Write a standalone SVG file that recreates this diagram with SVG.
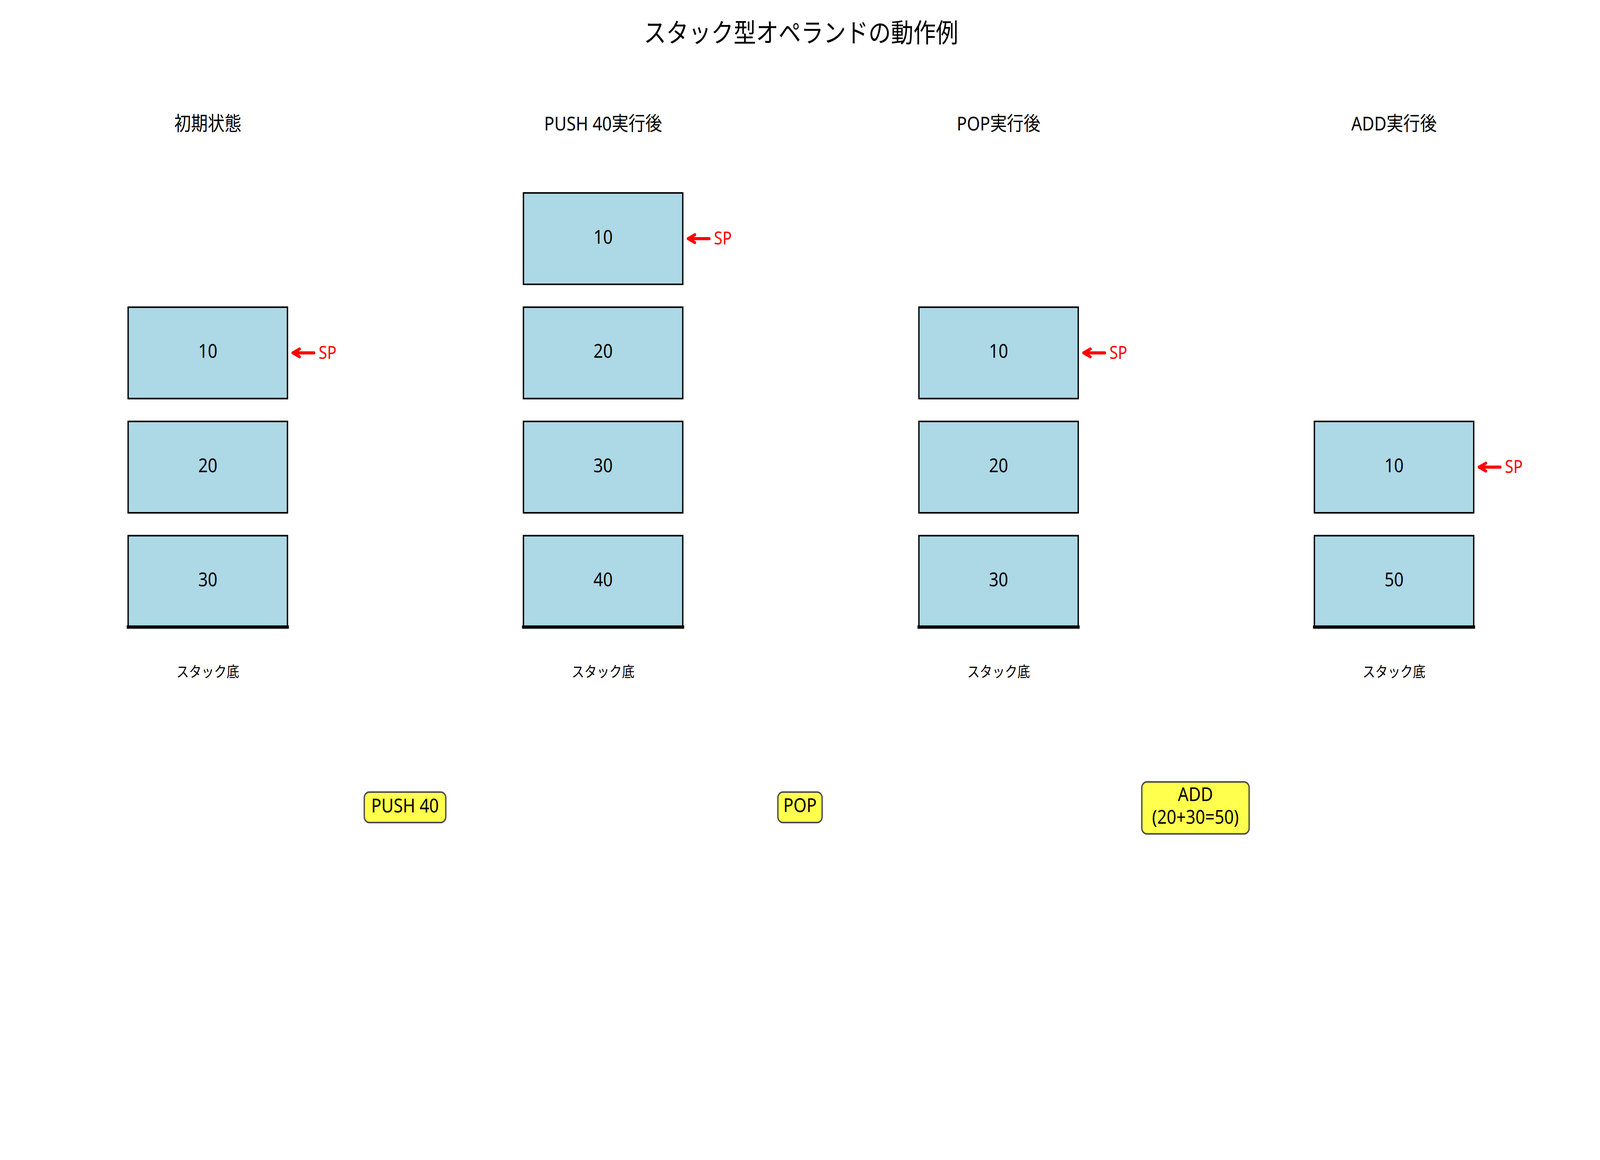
<svg xmlns="http://www.w3.org/2000/svg" width="4770" height="2970" viewBox="0 0 4770 2970" preserveAspectRatio="none" style="width:100vw;height:100vh">
<style>
text{font-family:"Noto Sans","Noto Sans CJK JP",sans-serif;fill:#000}
.title{font-size:67px;text-anchor:middle;dominant-baseline:central}
.head{font-size:50px;text-anchor:middle;dominant-baseline:central}
.cell rect{fill:#add8e6;stroke:#000;stroke-width:4}
.cell text{font-size:50px;text-anchor:middle}
.base{stroke:#000;stroke-width:8.3;stroke-linecap:square}
.btm{font-size:37.5px;text-anchor:middle;dominant-baseline:central}
.sp path{fill:none;stroke:#ff0000;stroke-width:8;stroke-linecap:round;stroke-linejoin:round}
.sp text{font-size:46px;fill:#ff0000}
.op rect{fill:#ffff4d;stroke:#4d4d4d;stroke-width:4}
.op text{font-size:50px;text-anchor:middle}
</style>
<rect width="4770" height="2970" fill="#fff"/>
<text class="title" x="2388" y="82">スタック型オペランドの動作例</text>

<g id="col1">
<text class="head" x="619.5" y="315">初期状態</text>
<g class="cell" id="c1r1"><rect x="382" y="786.5" width="475" height="234"/><text x="619.5" y="916.5">10</text></g>
<g class="cell" id="c1r2"><rect x="382" y="1079" width="475" height="234"/><text x="619.5" y="1209">20</text></g>
<g class="cell" id="c1r3"><rect x="382" y="1371.5" width="475" height="234"/><text x="619.5" y="1501.5">30</text></g>
<line class="base" x1="382" y1="1605.5" x2="857" y2="1605.5"/>
<text class="btm" x="619.5" y="1719">スタック底</text>
</g>

<g id="col2">
<text class="head" x="1798" y="315">PUSH 40実行後</text>
<g class="cell" id="c2r0"><rect x="1560.5" y="494" width="475" height="234"/><text x="1798" y="624">10</text></g>
<g class="cell" id="c2r1"><rect x="1560.5" y="786.5" width="475" height="234"/><text x="1798" y="916.5">20</text></g>
<g class="cell" id="c2r2"><rect x="1560.5" y="1079" width="475" height="234"/><text x="1798" y="1209">30</text></g>
<g class="cell" id="c2r3"><rect x="1560.5" y="1371.5" width="475" height="234"/><text x="1798" y="1501.5">40</text></g>
<line class="base" x1="1560.5" y1="1605.5" x2="2035.5" y2="1605.5"/>
<text class="btm" x="1798" y="1719">スタック底</text>
</g>

<g id="col3">
<text class="head" x="2977" y="315">POP実行後</text>
<g class="cell" id="c3r1"><rect x="2739.5" y="786.5" width="475" height="234"/><text x="2977" y="916.5">10</text></g>
<g class="cell" id="c3r2"><rect x="2739.5" y="1079" width="475" height="234"/><text x="2977" y="1209">20</text></g>
<g class="cell" id="c3r3"><rect x="2739.5" y="1371.5" width="475" height="234"/><text x="2977" y="1501.5">30</text></g>
<line class="base" x1="2739.5" y1="1605.5" x2="3214.5" y2="1605.5"/>
<text class="btm" x="2977" y="1719">スタック底</text>
</g>

<g id="col4">
<text class="head" x="4156" y="315">ADD実行後</text>
<g class="cell" id="c4r2"><rect x="3918.5" y="1079" width="475" height="234"/><text x="4156" y="1209">10</text></g>
<g class="cell" id="c4r3"><rect x="3918.5" y="1371.5" width="475" height="234"/><text x="4156" y="1501.5">50</text></g>
<line class="base" x1="3918.5" y1="1605.5" x2="4393.5" y2="1605.5"/>
<text class="btm" x="4156" y="1719">スタック底</text>
</g>

<g id="connectors">
<g class="sp" id="sp1"><path d="M936 903.5 L873 903.5 M893 893.5 L873 903.5 L893 913.5"/><text x="950" y="919">SP</text></g>
<g class="sp" id="sp2"><path d="M2114.5 611 L2051.5 611 M2071.5 601 L2051.5 611 L2071.5 621"/><text x="2128.5" y="626.5">SP</text></g>
<g class="sp" id="sp3"><path d="M3293.5 903.5 L3230.5 903.5 M3250.5 893.5 L3230.5 903.5 L3250.5 913.5"/><text x="3307.5" y="919">SP</text></g>
<g class="sp" id="sp4"><path d="M4472.5 1196 L4409.5 1196 M4429.5 1186 L4409.5 1196 L4429.5 1206"/><text x="4486.5" y="1211.5">SP</text></g>
</g>

<g class="op" id="op-push"><rect x="1086" y="2028" width="243" height="78" rx="15"/><text x="1207.5" y="2080">PUSH 40</text></g>
<g class="op" id="op-pop"><rect x="2319" y="2028" width="132" height="78" rx="15"/><text x="2385" y="2079">POP</text></g>
<g class="op" id="op-add"><rect x="3404" y="2002" width="320" height="133" rx="15"/><text x="3564" y="2051">ADD</text><text x="3564" y="2109">(20+30=50)</text></g>
</svg>
